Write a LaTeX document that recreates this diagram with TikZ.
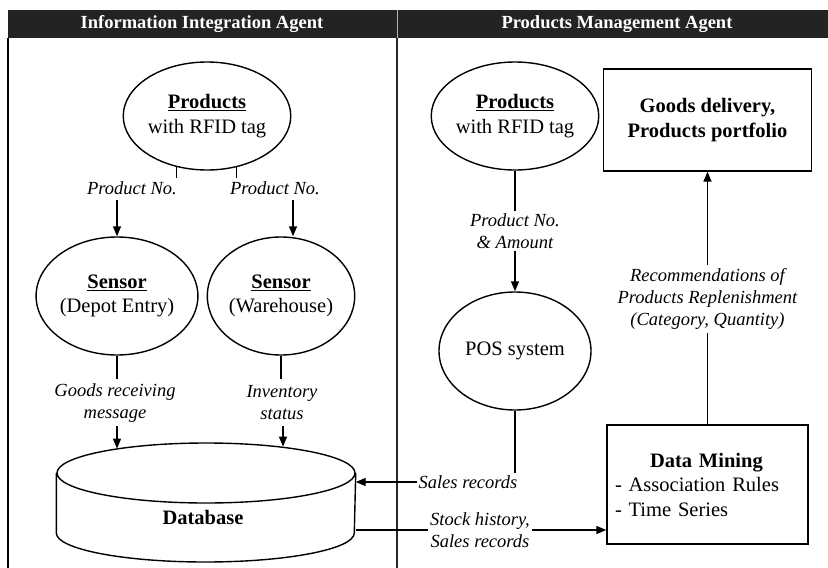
\documentclass[tikz,border=0pt]{standalone}
\usepackage{fontspec}
\setmainfont{Liberation Serif}
\usetikzlibrary{shapes.geometric,arrows.meta}
\newcommand\mainsz{\fontsize{20.5}{24.5}\selectfont}
\newcommand\lblsz{\fontsize{18.5}{22}\selectfont}
\definecolor{hdrfill}{HTML}{232323}
\begin{document}
\begin{tikzpicture}[x=1pt,y=-1pt,line width=1.4pt,
  arr/.style={-{Triangle[length=10pt,width=8pt]}},
  oval/.style={draw,ellipse,inner sep=0pt,align=center,font=\mainsz},
  box/.style={draw,rectangle,inner sep=4pt,align=center,font=\mainsz},
  lbl/.style={align=center,font=\lblsz\itshape,inner xsep=1pt,inner ysep=2pt},
  hdrtxt/.style={text=white,font=\lblsz\bfseries}]
\useasboundingbox (0,0) rectangle (828,568);

% header bar and column frame
\fill[hdrfill] (8,10) rectangle (828,38);
\draw[gray!60,line width=1pt] (397,10) -- (397,38);
\node[hdrtxt] (hL) at (202,24) {Information Integration Agent};
\node[hdrtxt] (hR) at (617,24) {Products Management Agent};
\draw[line width=2.4pt] (8,38) -- (8,568);
\draw[line width=2pt,black!85] (397,38) -- (397,568);

% left column: tagged products, sensors, database
\node[oval,minimum width=151pt,minimum height=108pt] (prodL) at (207,116)
  {\underline{\textbf{Products}}\\with RFID tag};
\node[oval,minimum width=152pt,minimum height=118pt] (sensL) at (117,296)
  {\underline{\textbf{Sensor}}\\(Depot Entry)};
\node[oval,minimum width=138pt,minimum height=118pt] (sensR) at (281,296)
  {\underline{\textbf{Sensor}}\\(Warehouse)};

\node[lbl] (pn1) at (132,188) {Product No.};
\node[lbl] (pn2) at (275,188) {Product No.};
\node[lbl] (grm) at (115,403) {Goods receiving\\message};
\node[lbl] (inv) at (282,403) {Inventory\\status};

\node[draw,ellipse,minimum width=298pt,minimum height=60pt,inner sep=0pt] (dbtop) at (206,473) {};
\draw (dbtop.west) -- ++(0,60) arc[start angle=180,end angle=0,x radius=149,y radius=29] -- (dbtop.east);
\node[font=\mainsz\bfseries] (db) at (203,517) {Database};

\draw (prodL.239) -- ++(0,11);
\draw (prodL.300) -- ++(0,11);
\coordinate (a1) at (117,200);
\coordinate (a2) at (293,200);
\draw[arr] (a1) -- (a1 |- sensL.north);
\draw[arr] (a2) -- (a2 |- sensR.north);
\draw (sensL.south) -- ++(0,23);
\draw (sensR.south) -- ++(0,23);
\coordinate (a3) at (117,426);
\coordinate (a4) at (283,426);
\draw[arr] (a3) -- (a3 |- dbtop.165);
\draw[arr] (a4) -- (a4 |- dbtop.19);

% right column: POS, data mining, delivery
\node[oval,minimum width=152pt,minimum height=108pt] (prodR) at (515,116)
  {\underline{\textbf{Products}}\\with RFID tag};
\node[oval,minimum width=152pt,minimum height=118pt] (pos) at (515,351) {POS system};
\node[box,minimum width=208pt,minimum height=102pt,font=\mainsz\bfseries] (gd) at (707.5,120)
  {Goods delivery,\\Products portfolio};
\node[draw,rectangle,minimum width=201pt,minimum height=119pt,text width=185pt,
  inner xsep=8pt,align=left,font=\mainsz] (dm) at (707.5,484.5)
  {\hspace*{35pt}\textbf{Data Mining}\\- Association Rules\\- Time Series};

\node[lbl] (pna) at (515,231) {Product No.\\\& Amount};
\node[lbl,inner ysep=3pt] (rec) at (707.5,299) {Recommendations of\\Products Replenishment\\(Category, Quantity)};
\node[lbl] (sr) at (468,482) {Sales records};
\node[lbl] (sh) at (480,530) {Stock history,\\Sales records};

\draw (prodR.south) -- (pna.north);
\draw[arr] (pna.south) -- (pos.north);
\draw (pos.south) -- (pos.south |- sr.north);
\draw[arr] (sr.west) -- (sr.west -| dbtop.east);
\draw (sh.west -| dbtop.east) -- (sh.west);
\draw[arr] (sh.east) -- (sh.east -| dm.west);
\draw (dm.north) -- (rec.south);
\draw[arr] (rec.north) -- (gd.south);
\end{tikzpicture}
\end{document}
